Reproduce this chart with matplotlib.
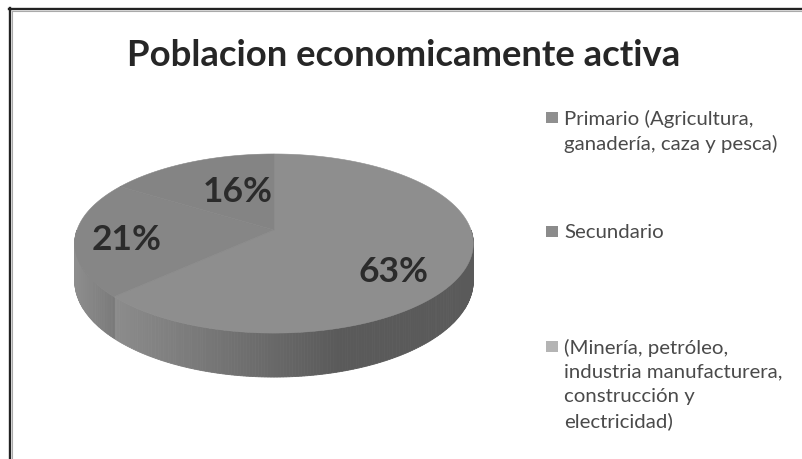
import numpy as np
import matplotlib
matplotlib.use("Agg")
import matplotlib.pyplot as plt
from matplotlib.patches import Rectangle

plt.rcParams['font.family'] = ['Lato', 'DejaVu Sans']

# Data
title = "Poblacion economicamente activa"
shares = [63, 21, 16]
share_labels = ["63%", "21%", "16%"]
legend_labels = ["Primario (Agricultura,\nganadería, caza y pesca)",
                 "Secundario",
                 "(Minería, petróleo,\nindustria manufacturera,\nconstrucción y\nelectricidad)"]
face_colors = ["#8e8e8e", "#868686", "#848484"]
legend_colors = ["#8f8f8f", "#8b8b8b", "#b4b4b4"]

# Pie geometry, in image pixels
cx, cy = 274, 230
rx, ry = 197, 87.5
tilt = -0.151


def project(theta, r=1.0):
    # theta runs clockwise from 12 o'clock
    u = r * np.sin(theta)
    v = -r * np.cos(theta)
    w = 1 + tilt * v
    return cx + rx * u / w, cy + ry * v / w


def depth(theta):
    return 36 - 8 * np.cos(theta)


def wall_shade(x, seam_x):
    # each slice has its own gradient along the wall
    if x < seam_x:
        g = 142 - 20 * (x - 74) / (seam_x - 74)
    else:
        g = 140 - 50 * np.clip((x - seam_x) / 225, 0, 1)
    return (g / 255, g / 255, g / 255)


fig = plt.figure(figsize=(8.03, 4.59), dpi=100)
ax = fig.add_axes([0, 0, 1, 1])
ax.set_xlim(0, 803)
ax.set_ylim(459, 0)
ax.axis("off")

bounds = 2 * np.pi * np.cumsum([0] + shares) / sum(shares)
seam_x, seam_y = project(bounds[1])

# Side wall, only the front half can be seen
edges = np.linspace(np.pi / 2, 3 * np.pi / 2, 241)
for a, b in zip(edges[:-1], edges[1:]):
    tt = np.array([a, b])
    x, y = project(tt)
    ax.fill([x[0], x[1], x[1], x[0]],
            [y[0], y[1], y[1] + depth(b), y[0] + depth(a)],
            color=wall_shade(x.mean(), seam_x), lw=0.6, zorder=1)

# Top face
for i in range(len(shares)):
    tt = np.linspace(bounds[i], bounds[i + 1], 200)
    x, y = project(tt)
    ax.fill(np.r_[cx, x], np.r_[cy, y], color=face_colors[i], lw=0.4, zorder=3)

# Share labels
label_pos = [(394, 272), (127, 240), (238, 192)]
for lab, (px, py) in zip(share_labels, label_pos):
    ax.text(px, py, lab, fontsize=25.5, fontweight="bold", color="#2b2b2b",
            ha="center", va="center", zorder=4)

ax.text(404, 55, title, fontsize=26.3, fontweight="bold", color="#262626",
        ha="center", va="center")

# Legend
legend_y = [117.5, 231.5, 346.5]
for lab, col, ly in zip(legend_labels, legend_colors, legend_y):
    ax.add_patch(Rectangle((546, ly - 5.5), 12, 11, color=col, lw=0))
    ax.text(564, ly - 8, lab, fontsize=14.7, color="#4a4a4a", ha="left", va="top",
            linespacing=1.5)

# Frame of the picture
ax.plot([9.3, 803], [9, 9], color="#222222", lw=1.7)
ax.plot([10.3, 10.3], [8, 459], color="#222222", lw=1.7)
ax.plot([12, 803], [11, 11], color="#aaaaaa", lw=0.8)
ax.plot([12.4, 12.4], [11, 459], color="#aaaaaa", lw=0.8)

fig.savefig("out.png", dpi=100)
